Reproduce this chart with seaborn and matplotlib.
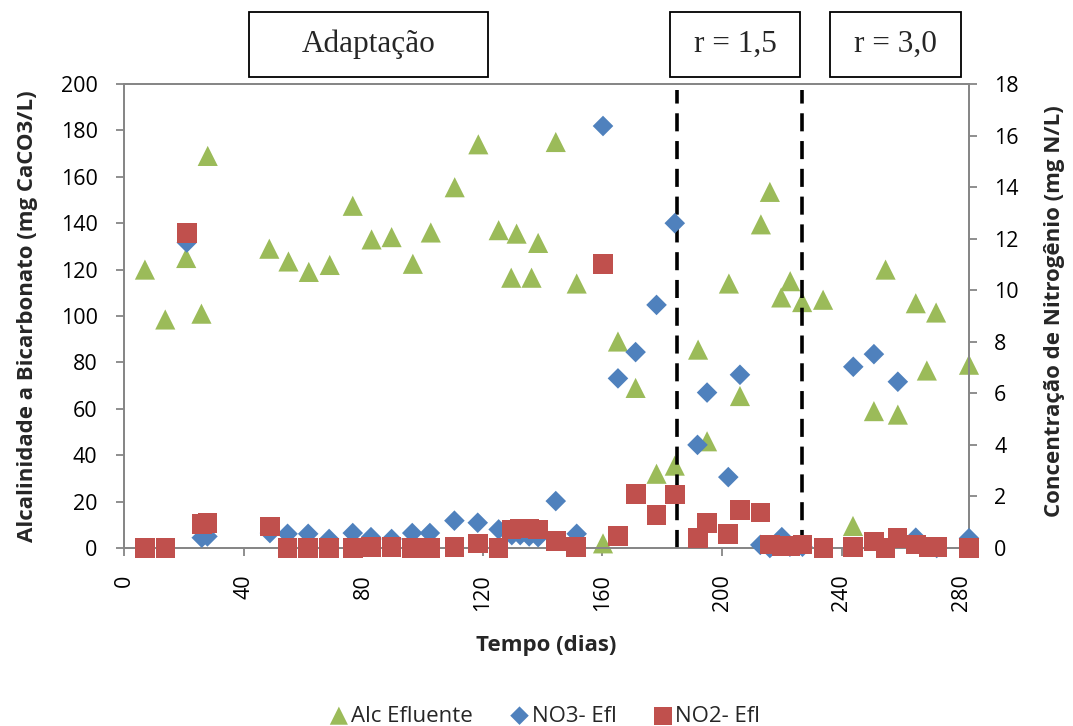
import matplotlib
matplotlib.use("Agg")
import matplotlib.pyplot as plt
import seaborn as sns
import pandas as pd
from matplotlib.patches import Rectangle

# ---------------- data ----------------
alc_days = [7, 13.8, 20.8, 25.9, 28, 48.6, 55, 61.8, 68.8, 76.5,
            82.8, 89.5, 96.6, 102.6, 110.6, 118.5, 125.3, 129.5, 131.3, 136.3,
            138.5, 144.4, 151.4, 160.2, 165.2, 171.1, 178.1, 184.2, 192, 195,
            202.3, 206, 213, 216, 219.8, 222.8, 226.8, 233.8, 243.8, 250.8,
            254.7, 258.8, 264.8, 268.5, 271.6, 282.6]
alc_vals = [120, 98.5, 125, 101, 169, 129, 123.5, 119, 122, 147.5,
            133, 134, 122.5, 136, 155.5, 174, 137, 116.5, 135.5, 116.5,
            131.5, 175, 114, 2, 89, 69, 32, 35.5, 85.5, 46,
            114, 65.5, 139.5, 153.5, 108, 115, 106, 107, 9.5, 59,
            120, 57.5, 105.5, 76.5, 101.5, 79]

no3_days = [21, 26, 27.9, 48.8, 54.7, 61.6, 68.6, 76.5, 82.6, 89.5,
            96.4, 102.3, 110.5, 118.3, 125.3, 129.7, 132.5, 135.5, 138.5, 144.4,
            151.4, 160.2, 165.2, 171.1, 178.1, 184.2, 191.8, 195, 202.1, 206,
            212.8, 216, 220, 222.7, 226.9, 243.9, 250.8, 258.8, 264.8, 271.8,
            282.6]
no3_vals = [11.85, 0.4, 0.45, 0.58, 0.55, 0.55, 0.35, 0.58, 0.42, 0.35,
            0.58, 0.58, 1.06, 0.98, 0.72, 0.5, 0.5, 0.45, 0.42, 1.82,
            0.55, 16.37, 6.58, 7.6, 9.43, 12.6, 4.0, 6.03, 2.75, 6.72,
            0.12, 0.0, 0.42, 0.05, 0.05, 7.03, 7.52, 6.45, 0.4, 0.0,
            0.38]

no2_days = [7, 13.9, 21, 26, 27.9, 48.8, 54.7, 61.6, 68.5, 76.5,
            82.6, 89.5, 96.4, 102.5, 110.5, 118.3, 125.3, 129.6, 132.5, 135.5,
            138.4, 144.4, 151.2, 160.3, 165.2, 171.2, 178.1, 184.2, 192, 195,
            202.1, 206, 212.9, 216, 220, 222.7, 226.9, 233.9, 243.9, 250.8,
            254.7, 258.7, 264.8, 269, 271.8, 282.6]
no2_vals = [0, 0, 12.23, 0.93, 0.98, 0.83, 0, 0, 0, 0,
            0.05, 0.05, 0, 0, 0.05, 0.18, 0, 0.72, 0.75, 0.75,
            0.72, 0.28, 0.03, 11.02, 0.47, 2.09, 1.28, 2.08, 0.4, 0.98,
            0.54, 1.47, 1.38, 0.13, 0.09, 0.09, 0.13, 0, 0.05, 0.25,
            0, 0.38, 0.13, 0.05, 0.05, 0]

phase_lines = [185, 226.8]
phase_labels = ["Adaptação", "r = 1,5", "r = 3,0"]
x_ticks = [0, 40, 80, 120, 160, 200, 240, 280]

# ---------------- style ----------------
sns.set_theme(style="white")
plt.rcParams['font.family'] = ['Open Sans', 'DejaVu Sans']
plt.rcParams['lines.scale_dashes'] = False

GREEN = "#9BBB59"
BLUE = "#4F81BD"
RED = "#C0504D"
AXC = "#868686"
FS_TICK = 15.5
FS_LAB = 16

fig = plt.figure(figsize=(10.73, 7.26), dpi=100)
ax = fig.add_axes([124/1073, 1-548/726, (969-124)/1073, (548-84)/726])
ax2 = ax.twinx()

df_alc = pd.DataFrame({"dia": alc_days, "v": alc_vals})
df_no3 = pd.DataFrame({"dia": no3_days, "v": no3_vals})
df_no2 = pd.DataFrame({"dia": no2_days, "v": no2_vals})

sns.scatterplot(data=df_alc, x="dia", y="v", ax=ax, marker="^", s=210,
                color=GREEN, edgecolor="none", linewidth=0, clip_on=False,
                label="Alc Efluente", legend=False)
sns.scatterplot(data=df_no3, x="dia", y="v", ax=ax2, marker="D", s=110,
                color=BLUE, edgecolor="none", linewidth=0, clip_on=False,
                label="NO3- Efl", legend=False, zorder=3)
sns.scatterplot(data=df_no2, x="dia", y="v", ax=ax2, marker="s", s=200,
                color=RED, edgecolor="none", linewidth=0, clip_on=False,
                label="NO2- Efl", legend=False, zorder=4)

for xv in phase_lines:
    ax.axvline(xv, ymin=0, ymax=0.988, color="black", lw=2.6,
               dashes=(13, 7), zorder=5)

ax.set_xlim(0, 282.6)
ax.set_ylim(0, 200)
ax2.set_ylim(0, 18)
ax.set_xticks(x_ticks)
ax.set_yticks(range(0, 201, 20))
ax2.set_yticks(range(0, 19, 2))

for a in (ax, ax2):
    for sp in a.spines.values():
        sp.set_color(AXC)
        sp.set_linewidth(1.3)
    a.tick_params(colors="black", labelsize=FS_TICK, length=6, width=1.3,
                  color=AXC, direction="out")
ax.tick_params(axis="x", labelrotation=90, pad=13, bottom=True)
ax.tick_params(axis="y", left=True, pad=13)
ax2.tick_params(axis="y", right=True, pad=12)

ax.set_xlabel("Tempo (dias)", fontsize=FS_LAB, fontweight="bold")
ax.set_ylabel("Alcalinidade a Bicarbonato (mg CaCO3/L)", fontsize=FS_LAB,
              fontweight="bold")
ax2.set_ylabel("Concentração de Nitrogênio (mg N/L)", fontsize=FS_LAB,
               fontweight="bold", rotation=90)
ax.xaxis.set_label_coords((546 - 124) / 845, (548 - 635) / 464)
ax.yaxis.set_label_coords((38 - 124) / 845, 0.5)
ax2.yaxis.set_label_coords((1044 - 124) / 845, 0.51)
ax.grid(False)
ax2.grid(False)

# legend
h1, l1 = ax.get_legend_handles_labels()
h2, l2 = ax2.get_legend_handles_labels()
fig.legend(h1 + h2, l1 + l2, loc="center", bbox_to_anchor=(544/1073, 1-716/726),
           ncol=3, frameon=False, fontsize=16, handletextpad=0.05,
           columnspacing=1.6, markerscale=0.9, handlelength=1.0)

# phase boxes
boxes = [(249, 488), (670, 800), (830, 961)]
for (x0, x1), txt in zip(boxes, phase_labels):
    fx = x0/1073
    fw = (x1-x0)/1073
    fy = 1-77/726
    fh = 65/726
    fig.add_artist(Rectangle((fx, fy), fw, fh, transform=fig.transFigure,
                             facecolor="white", edgecolor="black", lw=1.3))
    fig.text(fx+fw/2, fy+fh/2, txt, ha="center", va="center",
             fontsize=22.5, family="Liberation Serif")

fig.savefig("out.png", dpi=100)
